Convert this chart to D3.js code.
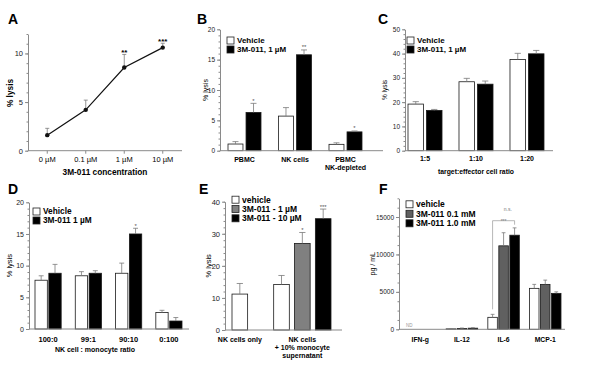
<!DOCTYPE html>
<html>
<head>
<meta charset="utf-8">
<script src="https://cdn.jsdelivr.net/npm/d3@7"></script>
<style>
  body { margin: 0; background: #fff; }
  svg { display: block; font-family: "Liberation Sans", Arial, sans-serif; }
</style>
</head>
<body>
<svg width="600" height="381"></svg>
<script>
// ---- data ----
// A : dose response
const aDoses = ["0 µM", "0.1 µM", "1 µM", "10 µM"];
const aLysis = [1.6, 4.2, 8.55, 10.6];
const aErr = [0.7, 1.0, 1.35, 0.45];
const aStars = ["", "", "**", "***"];

// B : cell populations
const bCells = ["PBMC", "NK cells", "PBMC\nNK-depleted"];
const bSeries = ["Vehicle", "3M-011, 1 µM"];
const bVehicle = [1.1, 5.7, 1.05];
const bVehicleErr = [0.4, 1.4, 0.25];
const bDrug = [6.3, 15.8, 3.1];
const bDrugErr = [1.5, 0.8, 0.15];
const bStars = ["*", "**", "*"];

// C : target:effector ratio
const cRatios = ["1:5", "1:10", "1:20"];
const cSeries = ["Vehicle", "3M-011, 1 µM"];
const cVehicle = [19.2, 28.4, 37.6];
const cVehicleErr = [1.0, 1.4, 2.5];
const cDrug = [16.6, 27.4, 39.9];
const cDrugErr = [0.4, 1.3, 1.4];

// D : NK cell : monocyte ratio
const dRatios = ["100:0", "99:1", "90:10", "0:100"];
const dSeries = ["Vehicle", "3M-011 1 µM"];
const dVehicle = [7.7, 8.4, 8.8, 2.6];
const dVehicleErr = [0.7, 0.65, 1.6, 0.35];
const dDrug = [8.8, 8.8, 15.0, 1.26];
const dDrugErr = [1.4, 0.4, 0.9, 0.55];
const dStars = ["", "", "*", ""];

// E : monocyte supernatant
const eConditions = ["NK cells only", "NK cells\n+ 10% monocyte\nsupernatant"];
const eSeries = ["vehicle", "3M-011 - 1 µM", "3M-011 - 10 µM"];
const eVehicle = [11.2, 14.2];
const eVehicleErr = [3.3, 2.8];
const eLow = [null, 27.0];
const eLowErr = [null, 3.4];
const eHigh = [null, 34.7];
const eHighErr = [null, 3.0];
const eLowStars = ["", "*"];
const eHighStars = ["", "***"];

// F : cytokines
const fCytokines = ["IFN-g", "IL-12", "IL-6", "MCP-1"];
const fSeries = ["vehicle", "3M-011 0.1 mM", "3M-011 1.0 mM"];
const fVehicle = [null, 60, 1600, 5470];
const fVehicleErr = [null, 40, 400, 530];
const fLow = [null, 110, 11150, 6000];
const fLowErr = [null, 60, 1750, 570];
const fHigh = [null, 150, 12570, 4800];
const fHighErr = [null, 60, 980, 200];

// ---- helpers ----
const svg = d3.select("svg");
const AXIS = "#8a8a8a";
const ERR = "#7a7a7a";

function panelLetter(t, x, y) {
  svg.append("text").attr("x", x).attr("y", y).attr("font-size", 14)
    .attr("font-weight", "bold").text(t);
}

function yAxis(g, y, x, major, minor, fs, fmt) {
  const a = g.append("g").attr("transform", `translate(${x},0)`)
    .call(d3.axisLeft(y).tickValues(major).tickSize(3).tickSizeOuter(0)
      .tickPadding(2).tickFormat(fmt || d3.format("d")));
  a.attr("font-family", null).attr("font-size", fs);
  a.select(".domain").attr("stroke", AXIS);
  a.selectAll(".tick line").attr("stroke", AXIS);
  a.selectAll(".tick text").attr("fill", "#222");
  const m = g.append("g").attr("transform", `translate(${x},0)`)
    .call(d3.axisLeft(y).tickValues(minor).tickSize(1.5).tickFormat(""));
  m.select(".domain").remove();
  m.selectAll(".tick line").attr("stroke", AXIS);
}

function yTitle(g, t, x, y, fs, bold) {
  g.append("text").attr("transform", `translate(${x},${y}) rotate(-90)`)
    .attr("text-anchor", "middle").attr("font-size", fs)
    .attr("font-weight", bold ? "bold" : "normal").text(t);
}

function legend(g, x, y0, dy, items, fs, box) {
  items.forEach((it, i) => {
    const yy = y0 + i * dy;
    g.append("rect").attr("x", x).attr("y", yy - box / 2).attr("width", box).attr("height", box)
      .attr("fill", it.fill).attr("stroke", "#222").attr("stroke-width", 0.8);
    g.append("text").attr("x", x + box + 3).attr("y", yy + fs * 0.36)
      .attr("font-size", fs).attr("font-weight", "bold").text(it.label);
  });
}

function groupedPlacer(groups, nSeries, range, padG, padS) {
  const x0 = d3.scaleBand().domain(groups).range(range).paddingInner(padG);
  const x1 = d3.scaleBand().domain(d3.range(nSeries)).range([0, x0.bandwidth()]).paddingInner(padS);
  return {
    center: gi => x0(groups[gi]) + x0.bandwidth() / 2,
    bar: (gi, si) => [x0(groups[gi]) + x1(si), x1.bandwidth()]
  };
}

// generic bar panel
function barPanel(cfg) {
  const g = svg.append("g");
  const y = d3.scaleLinear().domain(cfg.yDomain).range(cfg.yRange);
  const p = cfg.placer;
  const bars = [];
  cfg.series.forEach((s, si) => {
    cfg.groups.forEach((grp, gi) => {
      const v = s.values[gi];
      if (v == null) return;
      const [bx, bw] = p.bar(gi, si);
      bars.push({ x: bx, w: bw, v: v, e: s.errors[gi], fill: s.fill, star: s.stars ? s.stars[gi] : "" });
    });
  });
  // bars
  g.selectAll("rect.bar").data(bars).join("rect").attr("class", "bar")
    .attr("x", d => d.x).attr("width", d => d.w)
    .attr("y", d => y(d.v)).attr("height", d => y(0) - y(d.v))
    .attr("fill", d => d.fill).attr("stroke", "#1a1a1a").attr("stroke-width", 0.8);
  // error bars (upper only)
  const eb = g.selectAll("g.err").data(bars).join("g").attr("class", "err")
    .attr("stroke", ERR).attr("stroke-width", 0.8);
  eb.append("line").attr("x1", d => d.x + d.w / 2).attr("x2", d => d.x + d.w / 2)
    .attr("y1", d => y(d.v)).attr("y2", d => y(d.v + d.e));
  eb.append("line").attr("x1", d => d.x + d.w * 0.3).attr("x2", d => d.x + d.w * 0.7)
    .attr("y1", d => y(d.v + d.e)).attr("y2", d => y(d.v + d.e));
  // stars
  g.selectAll("text.star").data(bars.filter(d => d.star)).join("text").attr("class", "star")
    .attr("x", d => d.x + d.w / 2).attr("y", d => y(d.v + d.e) - 0.5)
    .attr("text-anchor", "middle").attr("font-size", cfg.starSize || 6)
    .attr("fill", cfg.starColor || "#555").text(d => d.star);
  // axes
  yAxis(g, y, cfg.axisX[0], cfg.ticks, cfg.minor, cfg.tickSize || 6.5, cfg.fmt);
  g.append("line").attr("x1", cfg.axisX[0]).attr("x2", cfg.axisX[1])
    .attr("y1", y(0)).attr("y2", y(0)).attr("stroke", AXIS);
  cfg.groups.forEach((grp, gi) => {
    grp.split("\n").forEach((line, li) => {
      g.append("text").attr("x", p.center(gi)).attr("y", cfg.labelY + li * 8)
        .attr("text-anchor", "middle").attr("font-size", cfg.labelSize || 7)
        .attr("font-weight", "bold").text(line);
    });
  });
  if (cfg.xTitle) {
    g.append("text").attr("x", cfg.xTitle.x).attr("y", cfg.xTitle.y).attr("text-anchor", "middle")
      .attr("font-size", cfg.xTitle.fs).attr("font-weight", "bold").text(cfg.xTitle.t);
  }
  yTitle(g, cfg.yTitle.t, cfg.yTitle.x, (cfg.yRange[0] + cfg.yRange[1]) / 2, cfg.yTitle.fs, cfg.yTitle.bold);
  legend(g, cfg.legend.x, cfg.legend.y, cfg.legend.dy,
    cfg.series.map(s => ({ label: s.name, fill: s.fill })), cfg.legend.fs, 7);
  return { g, y };
}

// ---- Panel A ----
{
  const g = svg.append("g");
  const x = d3.scalePoint().domain(aDoses).range([28, 182]).padding(0.5);
  const y = d3.scaleLinear().domain([0, 12]).range([150.7, 34]);
  yAxis(g, y, 28, [0, 5, 10], d3.range(0, 13), 7.5);
  g.append("line").attr("x1", 28).attr("x2", 182).attr("y1", y(0)).attr("y2", y(0)).attr("stroke", AXIS);
  aDoses.forEach(d => {
    g.append("line").attr("x1", x(d)).attr("x2", x(d)).attr("y1", y(0)).attr("y2", y(0) + 3).attr("stroke", AXIS);
    g.append("text").attr("x", x(d)).attr("y", 162).attr("text-anchor", "middle")
      .attr("font-size", 7.5).text(d);
  });
  const pts = aDoses.map((d, i) => ({ d, v: aLysis[i], e: aErr[i], s: aStars[i] }));
  pts.forEach(p => {
    g.append("line").attr("x1", x(p.d)).attr("x2", x(p.d)).attr("y1", y(p.v)).attr("y2", y(p.v + p.e))
      .attr("stroke", ERR).attr("stroke-width", 0.8);
    g.append("line").attr("x1", x(p.d) - 2).attr("x2", x(p.d) + 2).attr("y1", y(p.v + p.e)).attr("y2", y(p.v + p.e))
      .attr("stroke", ERR).attr("stroke-width", 0.8);
  });
  g.append("path").datum(pts).attr("fill", "none").attr("stroke", "#111").attr("stroke-width", 1.2)
    .attr("d", d3.line().x(p => x(p.d)).y(p => y(p.v)));
  g.selectAll("circle").data(pts).join("circle").attr("cx", p => x(p.d)).attr("cy", p => y(p.v))
    .attr("r", 2.2).attr("fill", "#111");
  g.selectAll("text.star").data(pts.filter(p => p.s)).join("text").attr("class", "star")
    .attr("x", p => x(p.d)).attr("y", p => y(p.v + p.e) + 1).attr("text-anchor", "middle")
    .attr("font-size", 8).attr("font-weight", "bold").text(p => p.s);
  g.append("text").attr("x", 105).attr("y", 175).attr("text-anchor", "middle")
    .attr("font-size", 8.3).attr("font-weight", "bold").text("3M-011 concentration");
  yTitle(g, "% lysis", 13, 93, 8.3, true);
}

// ---- Panel B ----
barPanel({
  groups: bCells,
  series: [
    { name: bSeries[0], fill: "#fff", values: bVehicle, errors: bVehicleErr },
    { name: bSeries[1], fill: "#000", values: bDrug, errors: bDrugErr, stars: bStars }
  ],
  placer: groupedPlacer(bCells, 2, [228, 362], 0.3465, 0.17),
  yDomain: [0, 20], yRange: [150.7, 29.3], ticks: [0, 5, 10, 15, 20], minor: d3.range(0, 21),
  axisX: [220, 383], labelY: 161.5,
  yTitle: { t: "% lysis", x: 208, fs: 7 },
  legend: { x: 227, y: 40.5, dy: 9, fs: 8 }
});

// ---- Panel C ----
barPanel({
  groups: cRatios,
  series: [
    { name: cSeries[0], fill: "#fff", values: cVehicle, errors: cVehicleErr },
    { name: cSeries[1], fill: "#000", values: cDrug, errors: cDrugErr }
  ],
  placer: groupedPlacer(cRatios, 2, [408, 544], 0.333, 0.16),
  yDomain: [0, 50], yRange: [150.7, 29.3], ticks: [0, 10, 20, 30, 40, 50], minor: d3.range(0, 51, 2),
  axisX: [405, 553], labelY: 161,
  xTitle: { t: "target:effector cell ratio", x: 476, y: 174, fs: 6.8 },
  yTitle: { t: "% lysis", x: 387, fs: 6.5 },
  legend: { x: 407, y: 40.5, dy: 9, fs: 8 }
});

// ---- Panel D ----
barPanel({
  groups: dRatios,
  series: [
    { name: dSeries[0], fill: "#fff", values: dVehicle, errors: dVehicleErr },
    { name: dSeries[1], fill: "#000", values: dDrug, errors: dDrugErr, stars: dStars }
  ],
  placer: groupedPlacer(dRatios, 2, [35, 182], 0.35, 0.11),
  yDomain: [0, 20], yRange: [329, 202.3], ticks: [0, 5, 10, 15, 20], minor: d3.range(0, 21),
  axisX: [29, 189], labelY: 342, labelSize: 7.5, tickSize: 7,
  xTitle: { t: "NK cell : monocyte ratio", x: 95, y: 352, fs: 7 },
  yTitle: { t: "% lysis", x: 12, fs: 7.5 },
  legend: { x: 33, y: 211.5, dy: 9, fs: 8.3 }
});

// ---- Panel E ----
{
  const slots = d3.scaleBand().domain(["0-0", "gap", "1-0", "1-1", "1-2"]).range([232, 331]).paddingInner(0.25);
  barPanel({
    groups: eConditions,
    series: [
      { name: eSeries[0], fill: "#fff", values: eVehicle, errors: eVehicleErr },
      { name: eSeries[1], fill: "#808080", values: eLow, errors: eLowErr, stars: eLowStars },
      { name: eSeries[2], fill: "#000", values: eHigh, errors: eHighErr, stars: eHighStars }
    ],
    placer: {
      center: gi => slots(gi === 0 ? "0-0" : "1-1") + slots.bandwidth() / 2,
      bar: (gi, si) => [slots(gi + "-" + si), slots.bandwidth()]
    },
    yDomain: [0, 40], yRange: [330, 201.7], ticks: [0, 10, 20, 30, 40], minor: d3.range(0, 41, 2),
    axisX: [225, 342], labelY: 341.5, tickSize: 7.5,
    yTitle: { t: "% lysis", x: 210.5, fs: 7.5 },
    legend: { x: 232, y: 199.7, dy: 9.3, fs: 8.5 }
  });
}

// ---- Panel F ----
{
  const placer = groupedPlacer(fCytokines, 3, [404.5, 561], 0.244, 0.136);
  const { g, y } = barPanel({
    groups: fCytokines,
    series: [
      { name: fSeries[0], fill: "#fff", values: fVehicle, errors: fVehicleErr },
      { name: fSeries[1], fill: "#606060", values: fLow, errors: fLowErr },
      { name: fSeries[2], fill: "#000", values: fHigh, errors: fHighErr }
    ],
    placer: placer,
    yDomain: [0, 17500], yRange: [329.3, 198.3], ticks: [0, 5000, 10000, 15000],
    minor: d3.range(0, 17501, 1250),
    axisX: [399, 565], labelY: 342, labelSize: 6.8,
    yTitle: { t: "pg / mL", x: 375, fs: 7 },
    legend: { x: 406, y: 204.3, dy: 9.5, fs: 8.5 }
  });
  // not detected marker
  const [nx, nw] = placer.bar(0, 0);
  g.append("text").attr("x", nx + nw / 2).attr("y", 326.5).attr("text-anchor", "middle")
    .attr("font-size", 4.5).attr("fill", "#999").text("ND");
  // significance bracket on IL-6
  const [wx, ww] = placer.bar(2, 0);
  const [kx, kw] = placer.bar(2, 2);
  const by = 220.7;
  g.append("path").attr("fill", "none").attr("stroke", "#999").attr("stroke-width", 0.7)
    .attr("d", `M${wx + ww / 2},${y(fVehicle[2] + fVehicleErr[2]) - 5}V${by}H${kx + kw / 2}V${by + 4}`);
  g.append("text").attr("x", (wx + kx + kw) / 2).attr("y", by + 1.8).attr("text-anchor", "middle")
    .attr("font-size", 5).attr("fill", "#777").text("***");
  g.append("text").attr("x", placer.bar(2, 2)[0] - 2).attr("y", 211).attr("text-anchor", "middle")
    .attr("font-size", 5).attr("fill", "#777").text("n.s.");
}

panelLetter("A", 8, 23.5);
panelLetter("B", 197, 24);
panelLetter("C", 378, 23.5);
panelLetter("D", 8, 193.5);
panelLetter("E", 199, 193.5);
panelLetter("F", 379, 193.5);
</script>
</body>
</html>
